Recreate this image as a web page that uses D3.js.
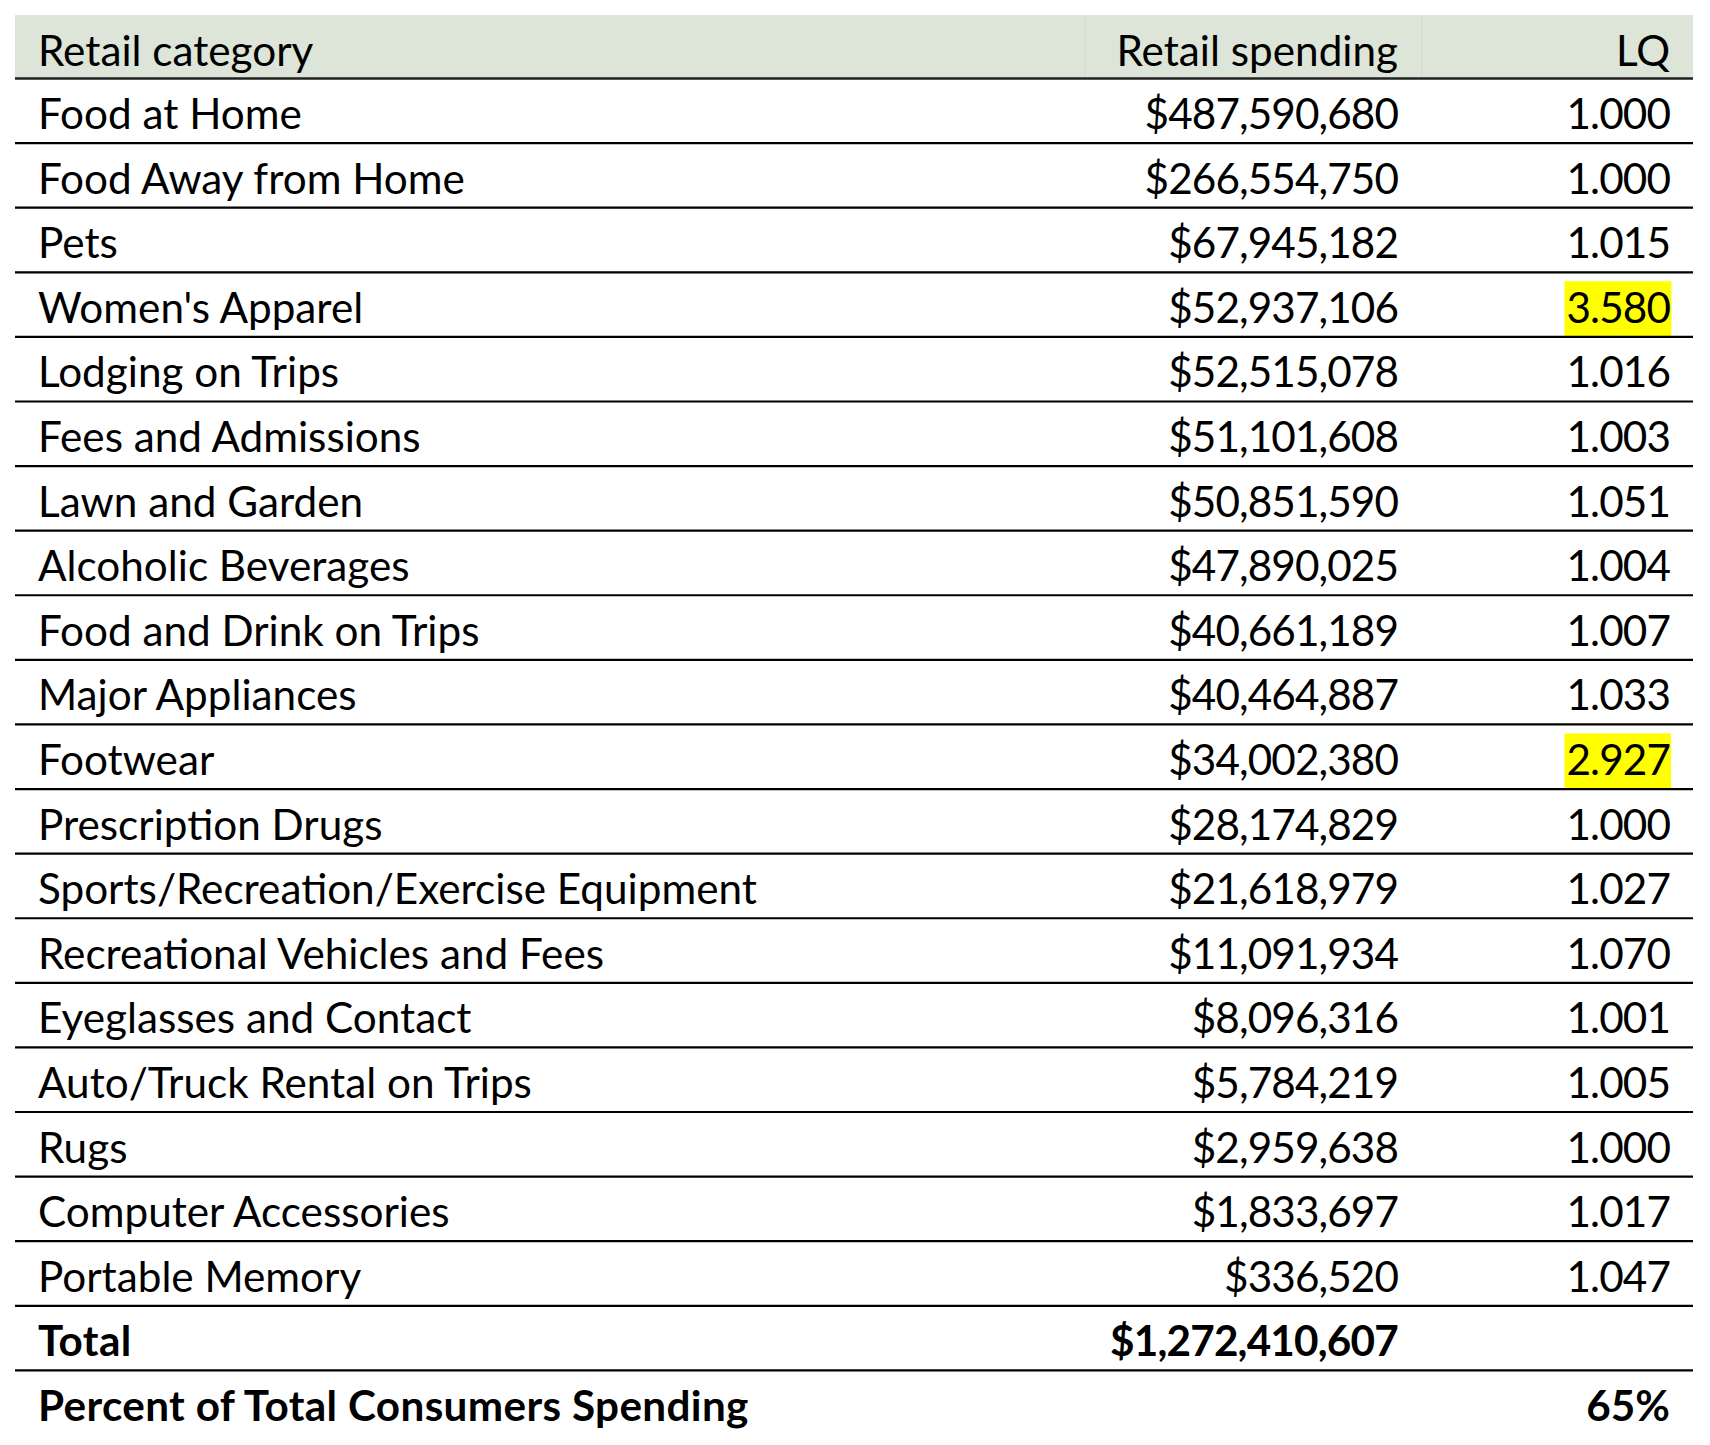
<!DOCTYPE html>
<html>
<head>
<meta charset="utf-8">
<script src="https://cdn.jsdelivr.net/npm/d3@7"></script>
<style>
  html, body { margin: 0; padding: 0; background: #fff; }
  svg { display: block; }
</style>
</head>
<body>
<svg id="chart" width="1710" height="1445"></svg>
<script>
const headers = ["Retail category", "Retail spending", "LQ"];
const categories = [
  "Food at Home", "Food Away from Home", "Pets", "Women's Apparel", "Lodging on Trips",
  "Fees and Admissions", "Lawn and Garden", "Alcoholic Beverages", "Food and Drink on Trips",
  "Major Appliances", "Footwear", "Prescription Drugs", "Sports/Recreation/Exercise Equipment",
  "Recreational Vehicles and Fees", "Eyeglasses and Contact", "Auto/Truck Rental on Trips",
  "Rugs", "Computer Accessories", "Portable Memory"
];
const spending = [
  487590680, 266554750, 67945182, 52937106, 52515078, 51101608, 50851590, 47890025,
  40661189, 40464887, 34002380, 28174829, 21618979, 11091934, 8096316, 5784219,
  2959638, 1833697, 336520
];
const lq = [
  1.000, 1.000, 1.015, 3.580, 1.016, 1.003, 1.051, 1.004, 1.007, 1.033, 2.927, 1.000,
  1.027, 1.070, 1.001, 1.005, 1.000, 1.017, 1.047
];
const highlighted = ["Women's Apparel", "Footwear"];
const totalLabel = "Total";
const totalSpending = 1272410607;
const percentLabel = "Percent of Total Consumers Spending";
const percentValue = 0.65;

const svg = d3.select("#chart");
const FONT = "Lato, 'Open Sans', sans-serif";

const left = 15, right = 1693;
const headerTop = 15, headerBottom = 78.5;
const colX = { cat: 38, spendR: 1398, lqR: 1670 };
const headerCells = [15, 1085, 1422, 1693];
const numSpacing = -0.9;

// measure font size so widest label matches reference width
const probe = svg.append("text").attr("font-family", FONT).attr("font-size", 100)
  .text("Sports/Recreation/Exercise Equipment");
const w100 = probe.node().getComputedTextLength();
probe.remove();
const fs = 100 * 719 / w100;

const rows = categories.map((c, i) => ({ label: c, spend: spending[i], lq: lq[i], bold: false }));
rows.push({ label: totalLabel, spend: totalSpending, lq: null, bold: true, total: true });
rows.push({ label: percentLabel, spend: null, lq: null, pct: percentValue, bold: true, last: true });

const y = d3.scaleBand().domain(d3.range(rows.length)).range([headerBottom, 1435]).padding(0);

const fmtMoney = d3.format("$,");
const fmtLq = d3.format(".3f");
const fmtPct = d3.format(".0%");

// header background
svg.append("rect").attr("x", left).attr("y", headerTop).attr("width", right - left)
  .attr("height", headerBottom - headerTop).attr("fill", "#dde4d8");
svg.selectAll(".hsep").data(headerCells.slice(1, 3)).join("line")
  .attr("x1", d => d).attr("x2", d => d).attr("y1", headerTop).attr("y2", headerBottom)
  .attr("stroke", "#d2dacd").attr("stroke-width", 1);

const baseOff = 14;
const hdr = svg.append("g").attr("font-family", FONT).attr("font-size", fs).attr("fill", "#000");
hdr.append("text").attr("x", colX.cat).attr("y", headerBottom - 13).text(headers[0]);
hdr.append("text").attr("x", colX.spendR).attr("y", headerBottom - 13).attr("text-anchor", "end").text(headers[1]);
hdr.append("text").attr("x", colX.lqR).attr("y", headerBottom - 13).attr("text-anchor", "end").text(headers[2]);

svg.append("line").attr("x1", left).attr("x2", right).attr("y1", headerBottom).attr("y2", headerBottom)
  .attr("stroke", "#222").attr("stroke-width", 2.5);

const g = svg.append("g").attr("font-family", FONT).attr("font-size", fs).attr("fill", "#000");
const rowG = g.selectAll(".row").data(rows).join("g").attr("class", "row");

rowG.each(function (d, i) {
  const sel = d3.select(this);
  const top = y(i), bottom = y(i) + y.bandwidth();
  const base = bottom - baseOff;
  const weight = d.bold ? 700 : 400;

  if (d.lq !== null) {
    const isHl = highlighted.includes(d.label);
    const hl = isHl ? sel.append("rect").attr("fill", "#ffff00") : null;
    const t = sel.append("text").attr("x", colX.lqR).attr("y", base).attr("text-anchor", "end")
      .attr("letter-spacing", numSpacing).text(fmtLq(d.lq));
    if (hl) {
      const bb = t.node().getBBox();
      hl.attr("x", bb.x - 2).attr("width", bb.width + 3).attr("y", top + 9).attr("height", y.bandwidth() - 10);
    }
  }
  sel.append("text").attr("x", colX.cat).attr("y", base).attr("font-weight", weight)
    .attr("letter-spacing", d.bold ? 0.35 : 0).text(d.label);
  if (d.spend !== null) {
    sel.append("text").attr("x", colX.spendR).attr("y", base).attr("text-anchor", "end")
      .attr("font-weight", weight).attr("letter-spacing", d.bold ? -0.8 : numSpacing)
      .text(fmtMoney(d.spend));
  }
  if (d.pct != null) {
    sel.append("text").attr("x", colX.lqR).attr("y", base).attr("text-anchor", "end")
      .attr("font-weight", weight).text(fmtPct(d.pct));
  }
  if (!d.last) {
    sel.append("line").attr("x1", left).attr("x2", right).attr("y1", bottom).attr("y2", bottom)
      .attr("stroke", "#000").attr("stroke-width", 2.2);
  }
});
</script>
</body>
</html>
